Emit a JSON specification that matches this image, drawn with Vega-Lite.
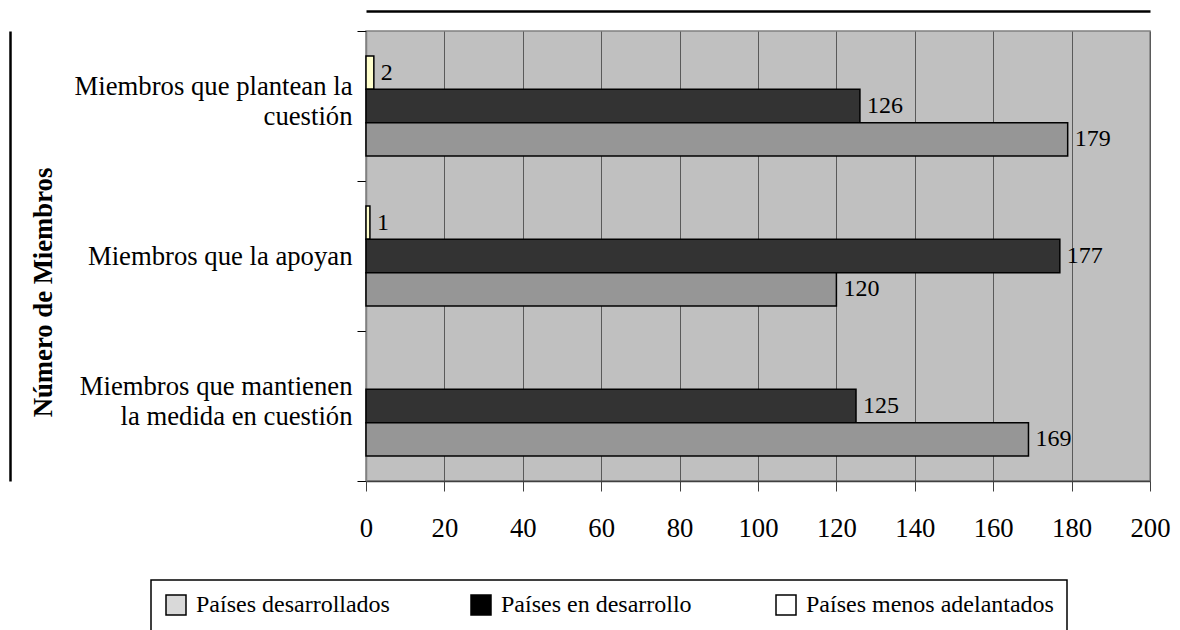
{
  "$schema": "https://vega.github.io/schema/vega-lite/v6.json",
  "width": 784,
  "height": 450,
  "autosize": {"type": "none"},
  "padding": {"left": 366, "top": 31, "right": 30, "bottom": 149},
  "background": "white",
  "config": {
    "font": "Liberation Serif",
    "view": {"fill": "#c0c0c0", "stroke": "#808080", "strokeWidth": 1.5},
    "axis": {"labelFont": "Liberation Serif", "titleFont": "Liberation Serif", "labelColor": "black", "titleColor": "black"},
    "legend": {"labelFont": "Liberation Serif", "strokeWidth": 1.5, "strokeColor": "black"},
    "text": {"font": "Liberation Serif"}
  },
  "data": {
    "values": [
      {"medida": "Miembros que plantean la cuestión", "grupo": "Países menos adelantados", "n": 2},
      {"medida": "Miembros que plantean la cuestión", "grupo": "Países en desarrollo", "n": 126},
      {"medida": "Miembros que plantean la cuestión", "grupo": "Países desarrollados", "n": 179},
      {"medida": "Miembros que la apoyan", "grupo": "Países menos adelantados", "n": 1},
      {"medida": "Miembros que la apoyan", "grupo": "Países en desarrollo", "n": 177},
      {"medida": "Miembros que la apoyan", "grupo": "Países desarrollados", "n": 120},
      {"medida": "Miembros que mantienen la medida en cuestión", "grupo": "Países en desarrollo", "n": 125},
      {"medida": "Miembros que mantienen la medida en cuestión", "grupo": "Países desarrollados", "n": 169}
    ]
  },
  "layer": [
    {
      "encoding": {
        "y": {
          "field": "medida",
          "type": "nominal",
          "sort": ["Miembros que plantean la cuestión", "Miembros que la apoyan", "Miembros que mantienen la medida en cuestión"],
          "scale": {"paddingInner": 0, "paddingOuter": 0},
          "axis": {
            "title": "Número de Miembros",
            "titleFontSize": 26.7,
            "titleFontWeight": "bold",
            "titleAngle": -90,
            "titleX": -323,
            "titleY": 261,
            "titleAlign": "center",
            "titleBaseline": "middle",
            "labelFontSize": 26.7,
            "labelLineHeight": 30,
            "labelPadding": 5,
            "labelLimit": 400,
            "labelOffset": {"condition": {"test": "datum.value != 'Miembros que la apoyan'", "value": -20}, "value": 0},
            "tickSize": 9,
            "tickColor": "black",
            "tickWidth": 1,
            "tickBand": "extent",
            "domainColor": "#808080",
            "domainWidth": 1.5,
            "grid": false,
            "labelExpr": "datum.label == 'Miembros que plantean la cuestión' ? ['Miembros que plantean la', 'cuestión'] : datum.label == 'Miembros que mantienen la medida en cuestión' ? ['Miembros que mantienen', 'la medida en cuestión'] : datum.label"
          }
        },
        "yOffset": {
          "field": "grupo",
          "type": "nominal",
          "sort": ["Países menos adelantados", "Países en desarrollo", "Países desarrollados"],
          "scale": {"paddingInner": 0, "paddingOuter": 0.75}
        },
        "x": {
          "field": "n",
          "type": "quantitative",
          "scale": {"domain": [0, 200], "nice": false},
          "axis": {
            "title": null,
            "values": [0, 20, 40, 60, 80, 100, 120, 140, 160, 180, 200],
            "labelFontSize": 26.7,
            "labelPadding": 24,
            "labelFlush": false,
            "tickSize": 10,
            "tickColor": "#404040",
            "domainColor": "#404040",
            "domainWidth": 1.5,
            "grid": true,
            "gridColor": "#5a5a5a",
            "gridWidth": 1
          }
        }
      },
      "layer": [
        {
          "mark": {"type": "bar", "stroke": "black", "strokeWidth": 1.5},
          "encoding": {
            "fill": {
              "field": "grupo",
              "type": "nominal",
              "scale": {"domain": ["Países desarrollados", "Países en desarrollo", "Países menos adelantados"], "range": ["#969696", "#333333", "#ffffcc"]},
              "legend": null
            }
          }
        },
        {
          "mark": {"type": "text", "align": "left", "baseline": "middle", "dx": 7, "fontSize": 24, "color": "black", "font": "Liberation Serif"},
          "encoding": {"text": {"field": "n", "type": "quantitative"}}
        },
        {
          "transform": [{"filter": "false"}],
          "mark": {"type": "bar", "stroke": "black", "strokeWidth": 1.5},
          "encoding": {
            "fill": {
              "field": "grupo",
              "type": "nominal",
              "scale": {"domain": ["Países desarrollados", "Países en desarrollo", "Países menos adelantados"], "range": ["#d9d9d9", "#000000", "#ffffff"]},
              "legend": {
                "title": null,
                "orient": "none",
                "legendX": -215,
                "legendY": 549,
                "direction": "horizontal",
                "columns": 3,
                "gridAlign": "all",
                "columnPadding": 24,
                "padding": 13,
                "strokeColor": "black",
                "labelFont": "Liberation Serif",
                "labelFontSize": 24,
                "labelColor": "black",
                "labelOffset": 8,
                "labelLimit": 400,
                "symbolType": "square",
                "symbolSize": 400,
                "symbolStrokeColor": "black",
                "symbolStrokeWidth": 1.5,
                "symbolOpacity": 1
              }
            }
          }
        }
      ],
      "resolve": {"scale": {"fill": "independent"}, "legend": {"fill": "independent"}}
    },
    {
      "transform": [{"filter": "false"}],
      "mark": {"type": "tick"},
      "encoding": {
        "x": {
          "field": "n",
          "type": "quantitative",
          "axis": {"orient": "top", "offset": 20, "domainColor": "black", "domainWidth": 2.5, "ticks": false, "labels": false, "grid": false, "title": null}
        },
        "y": {
          "field": "medida",
          "type": "nominal",
          "sort": ["Miembros que plantean la cuestión", "Miembros que la apoyan", "Miembros que mantienen la medida en cuestión"],
          "axis": {"orient": "left", "offset": 356, "domainColor": "black", "domainWidth": 2.5, "ticks": false, "labels": false, "grid": false, "title": null}
        }
      }
    }
  ],
  "resolve": {"axis": {"x": "independent", "y": "independent"}}
}
